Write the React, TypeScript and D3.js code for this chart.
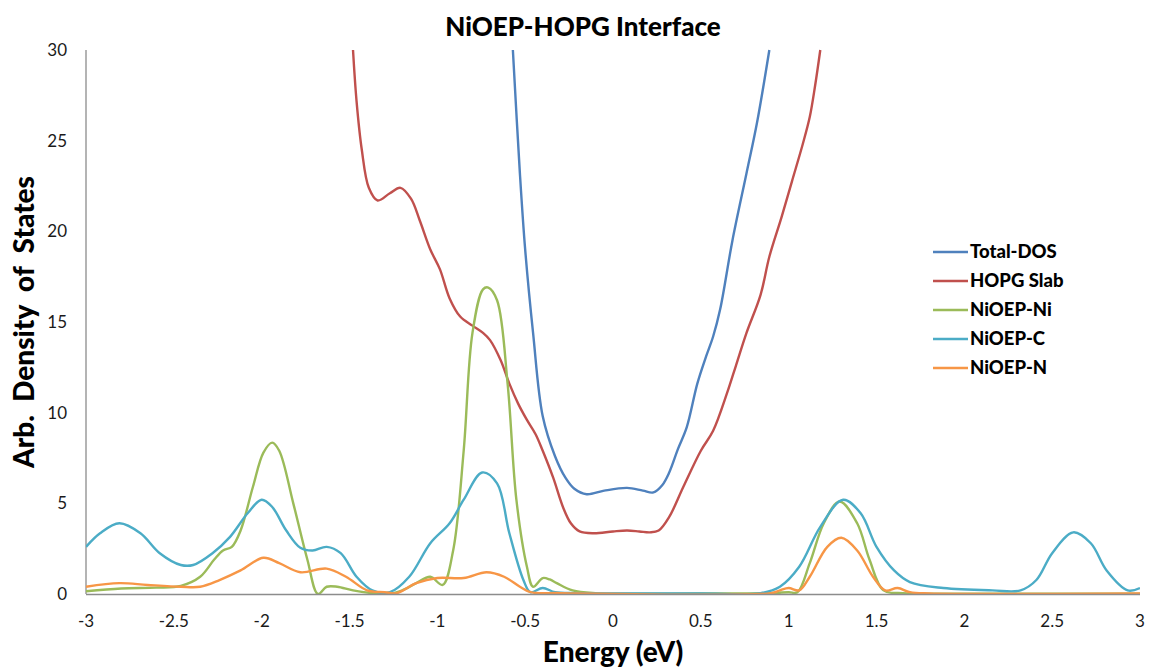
import { useEffect, useRef } from "react";
import * as d3 from "d3";

// [energy (eV), density] pairs
const totalDos = [
  [-0.57, 30], [-0.53, 23.2], [-0.5, 19.0], [-0.455, 14.4], [-0.4, 9.8], [-0.33, 7.6],
  [-0.27, 6.4], [-0.22, 5.8], [-0.15, 5.5], [-0.05, 5.7], [0.08, 5.85], [0.17, 5.7],
  [0.23, 5.6], [0.28, 6.0], [0.32, 6.7], [0.37, 8.0], [0.42, 9.2], [0.48, 11.6],
  [0.53, 13.1], [0.57, 14.2], [0.61, 15.7], [0.68, 19.5], [0.76, 23.2], [0.82, 26],
  [0.89, 30],
];

const hopgSlab = [
  [-1.48, 30], [-1.46, 27.2], [-1.43, 24.5], [-1.39, 22.4], [-1.34, 21.7], [-1.27, 22.1],
  [-1.21, 22.4], [-1.15, 21.8], [-1.1, 20.6], [-1.04, 19.0], [-0.985, 17.9], [-0.93, 16.3],
  [-0.87, 15.3], [-0.8, 14.8], [-0.74, 14.4], [-0.7, 14.0], [-0.64, 12.9], [-0.59, 11.6],
  [-0.54, 10.5], [-0.49, 9.6], [-0.44, 8.8], [-0.4, 7.9], [-0.34, 6.4], [-0.285, 4.8],
  [-0.24, 3.9], [-0.19, 3.45], [-0.11, 3.35], [0.0, 3.45], [0.08, 3.5], [0.15, 3.45],
  [0.21, 3.4], [0.26, 3.5], [0.32, 4.25], [0.4, 5.9], [0.5, 7.9], [0.57, 9.0],
  [0.65, 11.1], [0.7, 12.6], [0.76, 14.4], [0.84, 16.5], [0.89, 18.6], [0.96, 20.8],
  [1.02, 22.8], [1.08, 24.8], [1.12, 26.3], [1.15, 28], [1.18, 30],
];

const niOepNi = [
  [-3, 0.15], [-2.8, 0.3], [-2.6, 0.35], [-2.46, 0.45], [-2.35, 0.95], [-2.27, 1.9],
  [-2.22, 2.4], [-2.17, 2.6], [-2.12, 3.5], [-2.05, 5.9], [-1.99, 7.8], [-1.94, 8.35],
  [-1.9, 7.9], [-1.82, 5.0], [-1.74, 1.9], [-1.68, 0], [-1.63, 0.4], [-1.57, 0.4],
  [-1.48, 0.2], [-1.37, 0.05], [-1.25, 0.05], [-1.2, 0.2], [-1.12, 0.6], [-1.04, 0.95],
  [-0.97, 0.5], [-0.91, 2.4], [-0.85, 7.9], [-0.8, 14.4], [-0.74, 16.8], [-0.71, 16.9],
  [-0.66, 16.2], [-0.6, 11.6], [-0.55, 5.2], [-0.49, 1.5], [-0.455, 0.4], [-0.4, 0.88],
  [-0.36, 0.8], [-0.32, 0.6], [-0.23, 0.2], [-0.1, 0.05], [0.5, 0.03], [0.9, 0.05],
  [1.0, 0.1], [1.05, 0.1], [1.12, 1.7], [1.2, 3.9], [1.29, 5.1], [1.39, 3.9],
  [1.46, 1.9], [1.54, 0.2], [1.65, 0.05], [2, 0.02], [3, 0.02],
];

const niOepC = [
  [-3, 2.6], [-2.92, 3.35], [-2.81, 3.9], [-2.69, 3.35], [-2.58, 2.25], [-2.46, 1.6],
  [-2.39, 1.6], [-2.28, 2.25], [-2.18, 3.15], [-2.08, 4.45], [-2.0, 5.2], [-1.94, 4.8],
  [-1.86, 3.5], [-1.78, 2.55], [-1.71, 2.4], [-1.63, 2.6], [-1.55, 2.25], [-1.46, 0.95],
  [-1.37, 0.2], [-1.27, 0.1], [-1.16, 0.95], [-1.04, 2.8], [-0.93, 3.9], [-0.85, 5.2],
  [-0.745, 6.7], [-0.66, 6.1], [-0.59, 3.35], [-0.51, 0.77], [-0.47, 0.1], [-0.4, 0.33],
  [-0.33, 0.1], [-0.2, 0.05], [0.5, 0.03], [0.84, 0.05], [0.95, 0.4], [1.06, 1.5],
  [1.18, 3.7], [1.31, 5.2], [1.41, 4.45], [1.5, 2.6], [1.6, 1.3], [1.69, 0.66],
  [1.88, 0.33], [2.16, 0.2], [2.32, 0.2], [2.41, 0.77], [2.5, 2.25], [2.62, 3.4],
  [2.72, 2.8], [2.81, 1.3], [2.93, 0.2], [3.0, 0.33],
];

const niOepN = [
  [-3, 0.4], [-2.81, 0.6], [-2.65, 0.5], [-2.46, 0.4], [-2.35, 0.4], [-2.24, 0.77],
  [-2.12, 1.3], [-1.99, 2.0], [-1.9, 1.7], [-1.78, 1.2], [-1.63, 1.4], [-1.52, 0.95],
  [-1.4, 0.2], [-1.3, 0.1], [-1.23, 0.05], [-1.12, 0.6], [-1.0, 0.88], [-0.85, 0.88],
  [-0.72, 1.2], [-0.62, 0.95], [-0.53, 0.4], [-0.47, 0.1], [-0.3, 0.05], [0.9, 0.05],
  [0.95, 0.2], [1.0, 0.33], [1.06, 0.2], [1.12, 0.95], [1.22, 2.6], [1.3, 3.1],
  [1.39, 2.4], [1.48, 0.95], [1.55, 0.2], [1.62, 0.33], [1.69, 0.1], [1.8, 0.03],
  [3, 0.03],
];

const seriesNames = ["Total-DOS", "HOPG Slab", "NiOEP-Ni", "NiOEP-C", "NiOEP-N"];
const seriesColors = ["#4F81BD", "#C0504D", "#9BBB59", "#4BACC6", "#F79646"];
const seriesData = [totalDos, hopgSlab, niOepNi, niOepC, niOepN];
const xTicks = [-3, -2.5, -2, -1.5, -1, -0.5, 0, 0.5, 1, 1.5, 2, 2.5, 3];
const yTicks = [0, 5, 10, 15, 20, 25, 30];

const FONT = "Lato, 'Open Sans', sans-serif";

const App = () => {
  const svgRef = useRef(null);

  useEffect(() => {
    const svg = d3.select(svgRef.current);
    svg.selectAll("*").remove();

    const width = 1149;
    const height = 671;
    const margin = { top: 50, right: 9, bottom: 77, left: 86 };

    const xScale = d3
      .scaleLinear()
      .domain([-3, 3])
      .range([margin.left, width - margin.right]);
    const yScale = d3
      .scaleLinear()
      .domain([0, 30])
      .range([height - margin.bottom, margin.top]);

    svg
      .append("defs")
      .append("clipPath")
      .attr("id", "plot-clip")
      .append("rect")
      .attr("x", margin.left)
      .attr("y", margin.top - 1)
      .attr("width", width - margin.left - margin.right)
      .attr("height", height - margin.top - margin.bottom + 1);

    // y axis: plain line, no ticks
    svg
      .append("line")
      .attr("x1", xScale(-3))
      .attr("x2", xScale(-3))
      .attr("y1", yScale(30))
      .attr("y2", yScale(0))
      .attr("stroke", "#8c8c8c")
      .attr("stroke-width", 1.3);

    const line = d3
      .line()
      .x((d) => xScale(d[0]))
      .y((d) => yScale(d[1]))
      .curve(d3.curveCatmullRom.alpha(0.5));

    const plot = svg.append("g").attr("clip-path", "url(#plot-clip)");
    seriesData.forEach((data, i) => {
      plot
        .append("path")
        .datum(data)
        .attr("d", line)
        .attr("fill", "none")
        .attr("stroke", seriesColors[i])
        .attr("stroke-width", 2.4)
        .attr("stroke-linejoin", "round");
    });

    svg
      .append("line")
      .attr("x1", xScale(-3))
      .attr("x2", xScale(3))
      .attr("y1", yScale(0) + 0.5)
      .attr("y2", yScale(0) + 0.5)
      .attr("stroke", "#8c8c8c")
      .attr("stroke-width", 1.3);

    svg
      .append("g")
      .selectAll("text")
      .data(yTicks)
      .join("text")
      .attr("x", margin.left - 19)
      .attr("y", (d) => yScale(d))
      .attr("dy", "0.35em")
      .attr("text-anchor", "end")
      .attr("font-family", FONT)
      .attr("font-size", 17)
      .attr("fill", "#1a1a1a")
      .text((d) => d);

    svg
      .append("g")
      .selectAll("text")
      .data(xTicks)
      .join("text")
      .attr("x", (d) => xScale(d))
      .attr("y", yScale(0) + 33)
      .attr("text-anchor", "middle")
      .attr("font-family", FONT)
      .attr("font-size", 17)
      .attr("fill", "#1a1a1a")
      .text((d) => d);

    svg
      .append("text")
      .attr("x", 583)
      .attr("y", 36)
      .attr("text-anchor", "middle")
      .attr("font-family", FONT)
      .attr("font-weight", 900)
      .attr("font-size", 26)
      .text("NiOEP-HOPG Interface");

    svg
      .append("text")
      .attr("x", xScale(0))
      .attr("y", 662)
      .attr("text-anchor", "middle")
      .attr("font-family", FONT)
      .attr("font-weight", 900)
      .attr("font-size", 28)
      .text("Energy (eV)");

    svg
      .append("text")
      .attr("transform", "translate(34, 322) rotate(-90)")
      .attr("text-anchor", "middle")
      .attr("font-family", FONT)
      .attr("font-weight", 900)
      .attr("font-size", 28)
      .style("white-space", "pre")
      .text("Arb.  Density  of  States");

    const legend = svg.append("g");
    seriesNames.forEach((name, i) => {
      const cy = 252 + i * 29;
      legend
        .append("line")
        .attr("x1", 933)
        .attr("x2", 968)
        .attr("y1", cy)
        .attr("y2", cy)
        .attr("stroke", seriesColors[i])
        .attr("stroke-width", 2.4);
      legend
        .append("text")
        .attr("x", 970)
        .attr("y", cy + 6)
        .attr("font-family", FONT)
        .attr("font-weight", 900)
        .attr("font-size", 18.5)
        .text(name);
    });
  }, []);

  return (
    <svg
      ref={svgRef}
      width={1149}
      height={671}
      style={{ position: "absolute", left: 0, top: 0, background: "#fff" }}
    ></svg>
  );
};

export default App;
